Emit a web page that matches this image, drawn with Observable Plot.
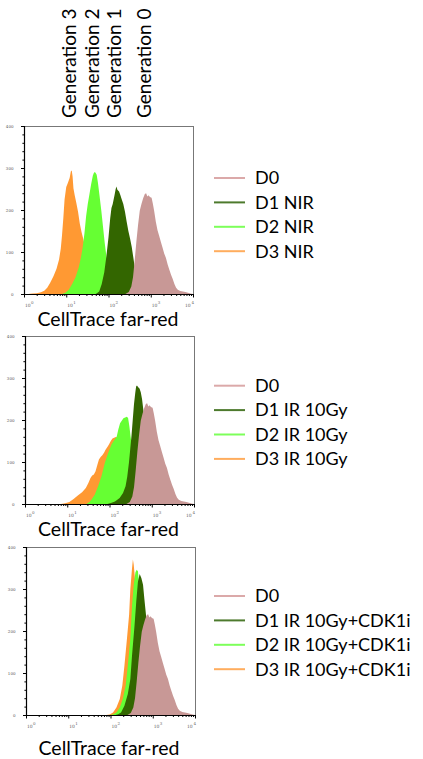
<!DOCTYPE html>
<html>
<head>
<meta charset="utf-8">
<script src="https://cdn.jsdelivr.net/npm/d3@7"></script>
<script src="https://cdn.jsdelivr.net/npm/@observablehq/plot@0.6"></script>
<style>
  body { margin: 0; background: #fff; }
  #root { position: relative; width: 423px; height: 759px; overflow: hidden; font-family: Lato, "Open Sans", sans-serif; }
  .panel { position: absolute; }
  #overlay { position: absolute; left: 0; top: 0; pointer-events: none; }
</style>
</head>
<body>
<div id="root"></div>
<script>
// ---------- labels ----------
const seriesNames = ["D0", "D1", "D2", "D3"];
const fillColors = ["#c89896", "#336600", "#66ff33", "#ff9933"];
const legendColors = ["#dba9a9", "#4d7a2d", "#7dff5a", "#ffad5e"];
const treatments = ["NIR", "IR 10Gy", "IR 10Gy+CDK1i"];
const generationLabels = ["Generation 3", "Generation 2", "Generation 1", "Generation 0"];
const generationPeakLog = [1.12, 1.68, 2.19, 2.90];
const xAxisTitle = "CellTrace far-red";
const decadeValues = [1, 10, 100, 1000, 10000];
const decadeExponents = ["0", "1", "2", "3", "4"];
const minorMultipliers = [2, 3, 4, 5, 6, 7, 8, 9];
const yTickValues = [0, 100, 200, 300, 400];
const yMinorValues = [20, 40, 60, 80, 120, 140, 160, 180, 220, 240, 260, 280, 320, 340, 360, 380];

// ---------- histogram data: log10(intensity) and cell count ----------
const d0Log   = [2.40, 2.48, 2.54, 2.58, 2.62, 2.66, 2.70, 2.74, 2.78, 2.82, 2.86, 2.89, 2.92, 2.95, 2.98, 3.02, 3.05, 3.08, 3.12, 3.16, 3.20, 3.24, 3.28, 3.32, 3.36, 3.40, 3.44, 3.48, 3.52, 3.56, 3.60, 3.64, 3.70, 3.76, 3.82, 3.88, 3.94, 4.00];
const d0Count = [0, 5, 18, 40, 80, 125, 165, 198, 214, 228, 238, 240, 232, 235, 231, 229, 215, 198, 172, 152, 138, 124, 110, 96, 86, 70, 58, 46, 36, 24, 15, 10, 7, 6, 5, 3, 1, 0];

const nirD1Log   = [1.70, 1.78, 1.84, 1.90, 1.95, 2.00, 2.04, 2.07, 2.10, 2.14, 2.17, 2.19, 2.21, 2.25, 2.28, 2.31, 2.35, 2.39, 2.43, 2.47, 2.51, 2.55, 2.59, 2.63, 2.68, 2.75, 2.83, 2.90];
const nirD1Count = [0, 6, 24, 52, 90, 135, 180, 205, 214, 234, 250, 256, 248, 244, 236, 226, 214, 196, 172, 150, 132, 112, 85, 58, 38, 18, 5, 0];
const nirD2Log   = [0.90, 0.98, 1.06, 1.14, 1.22, 1.30, 1.35, 1.39, 1.43, 1.47, 1.51, 1.55, 1.59, 1.63, 1.66, 1.69, 1.72, 1.75, 1.79, 1.83, 1.87, 1.91, 1.95, 2.00, 2.08, 2.16, 2.25];
const nirD2Count = [0, 3, 10, 24, 40, 65, 88, 112, 144, 185, 215, 238, 262, 282, 290, 289, 284, 265, 232, 198, 160, 122, 90, 60, 26, 8, 0];
const nirD3Log   = [0.10, 0.20, 0.30, 0.40, 0.48, 0.55, 0.62, 0.70, 0.77, 0.83, 0.87, 0.90, 0.93, 0.96, 1.00, 1.04, 1.08, 1.11, 1.13, 1.15, 1.17, 1.20, 1.24, 1.28, 1.32, 1.36, 1.40, 1.44, 1.50, 1.57, 1.65, 1.73, 1.80];
const nirD3Count = [0, 1, 2, 4, 8, 15, 27, 43, 60, 82, 108, 140, 180, 225, 255, 265, 276, 292, 294, 280, 252, 235, 216, 195, 168, 148, 132, 115, 89, 50, 18, 4, 0];

const irD1Log   = [1.95, 2.05, 2.13, 2.24, 2.32, 2.38, 2.42, 2.46, 2.49, 2.52, 2.55, 2.58, 2.61, 2.63, 2.65, 2.68, 2.71, 2.74, 2.77, 2.80, 2.85, 2.90, 2.95, 3.00, 3.08, 3.15];
const irD1Count = [0, 3, 6, 14, 26, 42, 65, 98, 130, 162, 200, 238, 265, 280, 282, 278, 275, 266, 250, 225, 180, 120, 62, 22, 4, 0];
const irD2Log   = [1.45, 1.52, 1.57, 1.65, 1.73, 1.81, 1.89, 1.97, 2.05, 2.13, 2.17, 2.21, 2.25, 2.29, 2.33, 2.37, 2.41, 2.44, 2.47, 2.50, 2.53, 2.57, 2.62, 2.68, 2.75, 2.82];
const irD2Count = [0, 4, 10, 22, 42, 66, 98, 122, 142, 155, 160, 178, 192, 198, 204, 206, 208, 205, 185, 160, 138, 108, 70, 35, 10, 0];
const irD3Log   = [0.85, 0.95, 1.05, 1.15, 1.25, 1.35, 1.44, 1.50, 1.55, 1.59, 1.63, 1.67, 1.71, 1.75, 1.79, 1.83, 1.87, 1.91, 1.95, 1.99, 2.03, 2.07, 2.11, 2.16, 2.22, 2.30, 2.38, 2.46, 2.55, 2.62];
const irD3Count = [0, 2, 5, 12, 20, 28, 38, 50, 62, 68, 70, 78, 92, 106, 112, 116, 122, 130, 136, 142, 150, 156, 158, 160, 140, 95, 50, 20, 4, 0];

const cdkD1Log   = [2.12, 2.18, 2.25, 2.33, 2.41, 2.47, 2.51, 2.57, 2.61, 2.65, 2.69, 2.73, 2.77, 2.80, 2.84, 2.90, 2.96, 3.02, 3.10, 3.20];
const cdkD1Count = [0, 2, 6, 22, 50, 86, 142, 214, 270, 318, 336, 326, 310, 278, 238, 170, 100, 50, 15, 0];
const cdkD2Log   = [2.00, 2.07, 2.14, 2.22, 2.29, 2.36, 2.41, 2.47, 2.51, 2.55, 2.59, 2.62, 2.65, 2.70, 2.75, 2.80, 2.88, 2.98, 3.10];
const cdkD2Count = [0, 2, 6, 18, 38, 70, 118, 182, 262, 310, 340, 346, 342, 280, 190, 110, 40, 8, 0];
const cdkD3Log   = [1.90, 1.98, 2.06, 2.14, 2.22, 2.28, 2.33, 2.39, 2.44, 2.47, 2.51, 2.53, 2.55, 2.60, 2.65, 2.70, 2.78, 2.88, 3.00];
const cdkD3Count = [0, 1, 6, 18, 38, 70, 118, 182, 238, 300, 350, 370, 358, 300, 200, 110, 40, 8, 0];

// ---------- build ----------
function rows(logs, counts) { return logs.map((l, i) => ({x: Math.pow(10, l), y: counts[i]})); }

const panelData = [
  [rows(d0Log, d0Count), rows(nirD1Log, nirD1Count), rows(nirD2Log, nirD2Count), rows(nirD3Log, nirD3Count)],
  [rows(d0Log, d0Count), rows(irD1Log, irD1Count), rows(irD2Log, irD2Count), rows(irD3Log, irD3Count)],
  [rows(d0Log, d0Count), rows(cdkD1Log, cdkD1Count), rows(cdkD2Log, cdkD2Count), rows(cdkD3Log, cdkD3Count)]
];

// layout: [left, top] of each plot svg
const panelPos = [[0, 118], [1, 328], [2, 539]];
const legendTop = [178, 385.7, 596];
const legendStep = 24.4;
const titleBaseline = [326, 536, 755];

const minorX = [];
decadeValues.slice(0, 4).forEach(d => minorMultipliers.forEach(m => minorX.push(d * m)));
const decadeRows = decadeValues.map((v, i) => ({v, e: decadeExponents[i], i}));

const root = document.getElementById("root");

function makePanel(p) {
  const data = panelData[p];
  const drawOrder = [3, 2, 1, 0];
  const serif = "'DejaVu Serif', 'Liberation Serif', serif";
  const marks = drawOrder.map(k => Plot.areaY(data[k], {x: "x", y: "y", fill: fillColors[k], curve: "linear"}));
  marks.push(
    Plot.frame({stroke: "#777", strokeWidth: 1}),
    Plot.ruleX([1], {stroke: "#000", strokeWidth: 1.2}),
    Plot.ruleY([0], {stroke: "#000", strokeWidth: 1.2}),
    Plot.axisY({ticks: yTickValues, tickSize: 3, tickPadding: 8, fontSize: 4, fill: "#555", stroke: "#000", fontFamily: serif, label: null}),
    Plot.axisY({ticks: yMinorValues, tickSize: 1.6, tickFormat: () => "", stroke: "#000", label: null}),
    Plot.axisX({ticks: decadeValues, tickSize: 3.5, tickFormat: () => "", stroke: "#000", label: null}),
    Plot.axisX({ticks: minorX, tickSize: 2, tickFormat: () => "", stroke: "#000", label: null}),
    // decade labels "10" with superscript exponent
    Plot.text(decadeRows.filter(d => d.i < 4), {x: "v", y: () => 0, text: () => "10", dx: 0.5, dy: 11.5, textAnchor: "start", fontSize: 4.5, fill: "#666", fontFamily: serif}),
    Plot.text(decadeRows.filter(d => d.i < 4), {x: "v", y: () => 0, text: "e", dx: 6.5, dy: 8.5, textAnchor: "start", fontSize: 4, fill: "#666", fontFamily: serif}),
    Plot.text(decadeRows.filter(d => d.i === 4), {x: "v", y: () => 0, text: () => "10", dx: -8.5, dy: 11.5, textAnchor: "start", fontSize: 4.5, fill: "#666", fontFamily: serif}),
    Plot.text(decadeRows.filter(d => d.i === 4), {x: "v", y: () => 0, text: "e", dx: -2, dy: 8.5, textAnchor: "start", fontSize: 4, fill: "#666", fontFamily: serif})
  );
  const svg = Plot.plot({
    width: 200, height: 192,
    marginLeft: 24, marginRight: 7, marginTop: 8, marginBottom: 16,
    x: {type: "log", domain: [1, 10000]},
    y: {domain: [0, 400]},
    style: {background: "transparent", overflow: "visible"},
    marks
  });
  const div = document.createElement("div");
  div.className = "panel";
  div.style.left = panelPos[p][0] + "px";
  div.style.top = panelPos[p][1] + "px";
  div.appendChild(svg);
  root.appendChild(div);
}
[0, 1, 2].forEach(makePanel);

// ---------- overlay text: generation labels, axis titles, legends ----------
const NS = "http://www.w3.org/2000/svg";
const ov = document.createElementNS(NS, "svg");
ov.setAttribute("id", "overlay");
ov.setAttribute("width", 423);
ov.setAttribute("height", 759);
ov.style.fontFamily = "Lato, 'Open Sans', sans-serif";
root.appendChild(ov);

function addText(x, y, str, size, attrs) {
  const t = document.createElementNS(NS, "text");
  t.setAttribute("x", x); t.setAttribute("y", y);
  t.setAttribute("font-size", size);
  t.setAttribute("fill", "#000");
  for (const k in (attrs || {})) t.setAttribute(k, attrs[k]);
  t.textContent = str;
  ov.appendChild(t);
  return t;
}

// generation labels: centered on the peak positions of panel 1's x scale
const px0 = 24, pxPerDecade = (193 - 24) / 4;
generationLabels.forEach((g, i) => {
  const cx = px0 + generationPeakLog[i] * pxPerDecade - 2;
  const t = addText(0, 0, g, 19, {"text-anchor": "start"});
  t.setAttribute("transform", `translate(${cx + 6.5},118) rotate(-90)`);
});

titleBaseline.forEach((b, p) => addText(108 + p * 0.5, b, xAxisTitle, 19.5, {"text-anchor": "middle"}));

legendTop.forEach((top, p) => {
  seriesNames.forEach((s, k) => {
    const cy = top + k * legendStep;
    const l = document.createElementNS(NS, "line");
    l.setAttribute("x1", 214); l.setAttribute("x2", 245);
    l.setAttribute("y1", cy); l.setAttribute("y2", cy);
    l.setAttribute("stroke", legendColors[k]); l.setAttribute("stroke-width", 2);
    ov.appendChild(l);
    const label = k === 0 ? s : s + " " + treatments[p];
    addText(255, cy + 6.3, label, 18);
  });
});
</script>
</body>
</html>
